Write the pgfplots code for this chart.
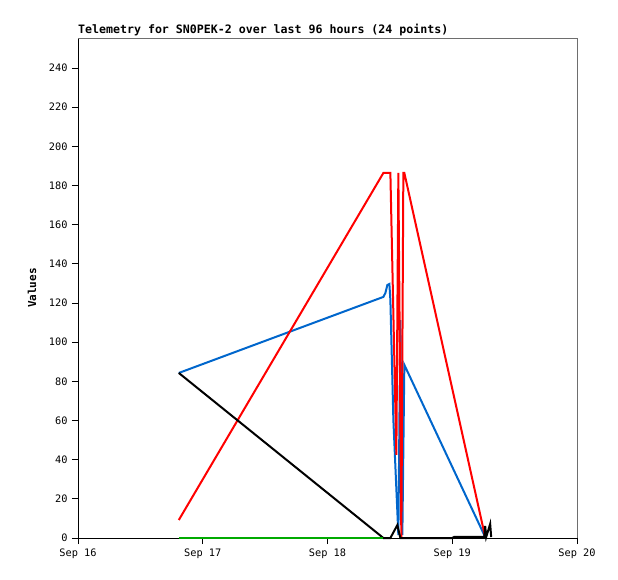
\documentclass[border=0pt]{standalone}
\usepackage{pgfplots}
\pgfplotsset{compat=1.18}
\usepackage{fontspec}
\setmonofont{DejaVu Sans Mono}
\definecolor{cblue}{RGB}{0,102,204}
\definecolor{cgreen}{RGB}{0,170,0}
\definecolor{cframe}{RGB}{110,110,110}
\begin{document}
\begin{tikzpicture}[x=1pt,y=1pt]
\useasboundingbox (-78,-41) rectangle (540,538);
\begin{axis}[
  at={(0,0)}, anchor=south west,
  scale only axis, width=499pt, height=500pt,
  xmin=0, xmax=4, ymin=0, ymax=255.3,
  axis x line*=bottom, axis y line*=left,
  axis line style={black, line width=0.9pt, -},
  xtick={0,1,2,3,4},
  xticklabels={Sep 16,Sep 17,Sep 18,Sep 19,Sep 20},
  ytick={0,20,...,240},
  tick align=outside,
  major tick length=6pt,
  tick style={black, line width=0.9pt},
  /pgf/number format/assume math mode=true,
  tick label style={font=\ttfamily\fontsize{10.3}{12}\selectfont},
  xticklabel style={yshift=-1pt},
  yticklabel style={xshift=-1pt},
  clip=false,
]
\draw[cframe, line width=0.9pt] (rel axis cs:0,1) -- (rel axis cs:1,1) -- (rel axis cs:1,0);
\addplot[cblue, line width=2pt] coordinates {
(0.808,84.27) (2.448,123.1) (2.464,125.1) (2.48,129.2) (2.496,129.7) (2.504,121.6)
(2.528,60.3) (2.568,1.5) (2.584,111.3) (2.6,1.5) (2.616,88.4) (3.264,0.5)
};
\addplot[red, line width=2pt] coordinates {
(0.808,9.19) (2.448,186.4) (2.504,186.4) (2.552,42.4) (2.568,186.4) (2.592,0)
(2.608,186.4) (2.616,186.4) (3.264,0.5)
};
\addplot[black, line width=2pt] coordinates {
(0.808,84.27) (2.448,0) (2.504,0) (2.56,6.6) (2.584,0) (3.0,0) (3.016,0.6)
(3.256,0.6) (3.264,6.1) (3.272,0.5) (3.304,7.2) (3.312,0.5)
};
\addplot[cgreen, line width=2pt] coordinates {
(0.808,0) (2.448,0)
};
\end{axis}
\node[anchor=base west, font=\ttfamily\bfseries\fontsize{11.6}{13}\selectfont, inner sep=0pt] at (0,504) {Telemetry for SN0PEK-2 over last 96 hours (24 points)};
\node[rotate=90, font=\ttfamily\bfseries\fontsize{11}{13}\selectfont] at (-46,250) {Values};
\end{tikzpicture}
\end{document}
